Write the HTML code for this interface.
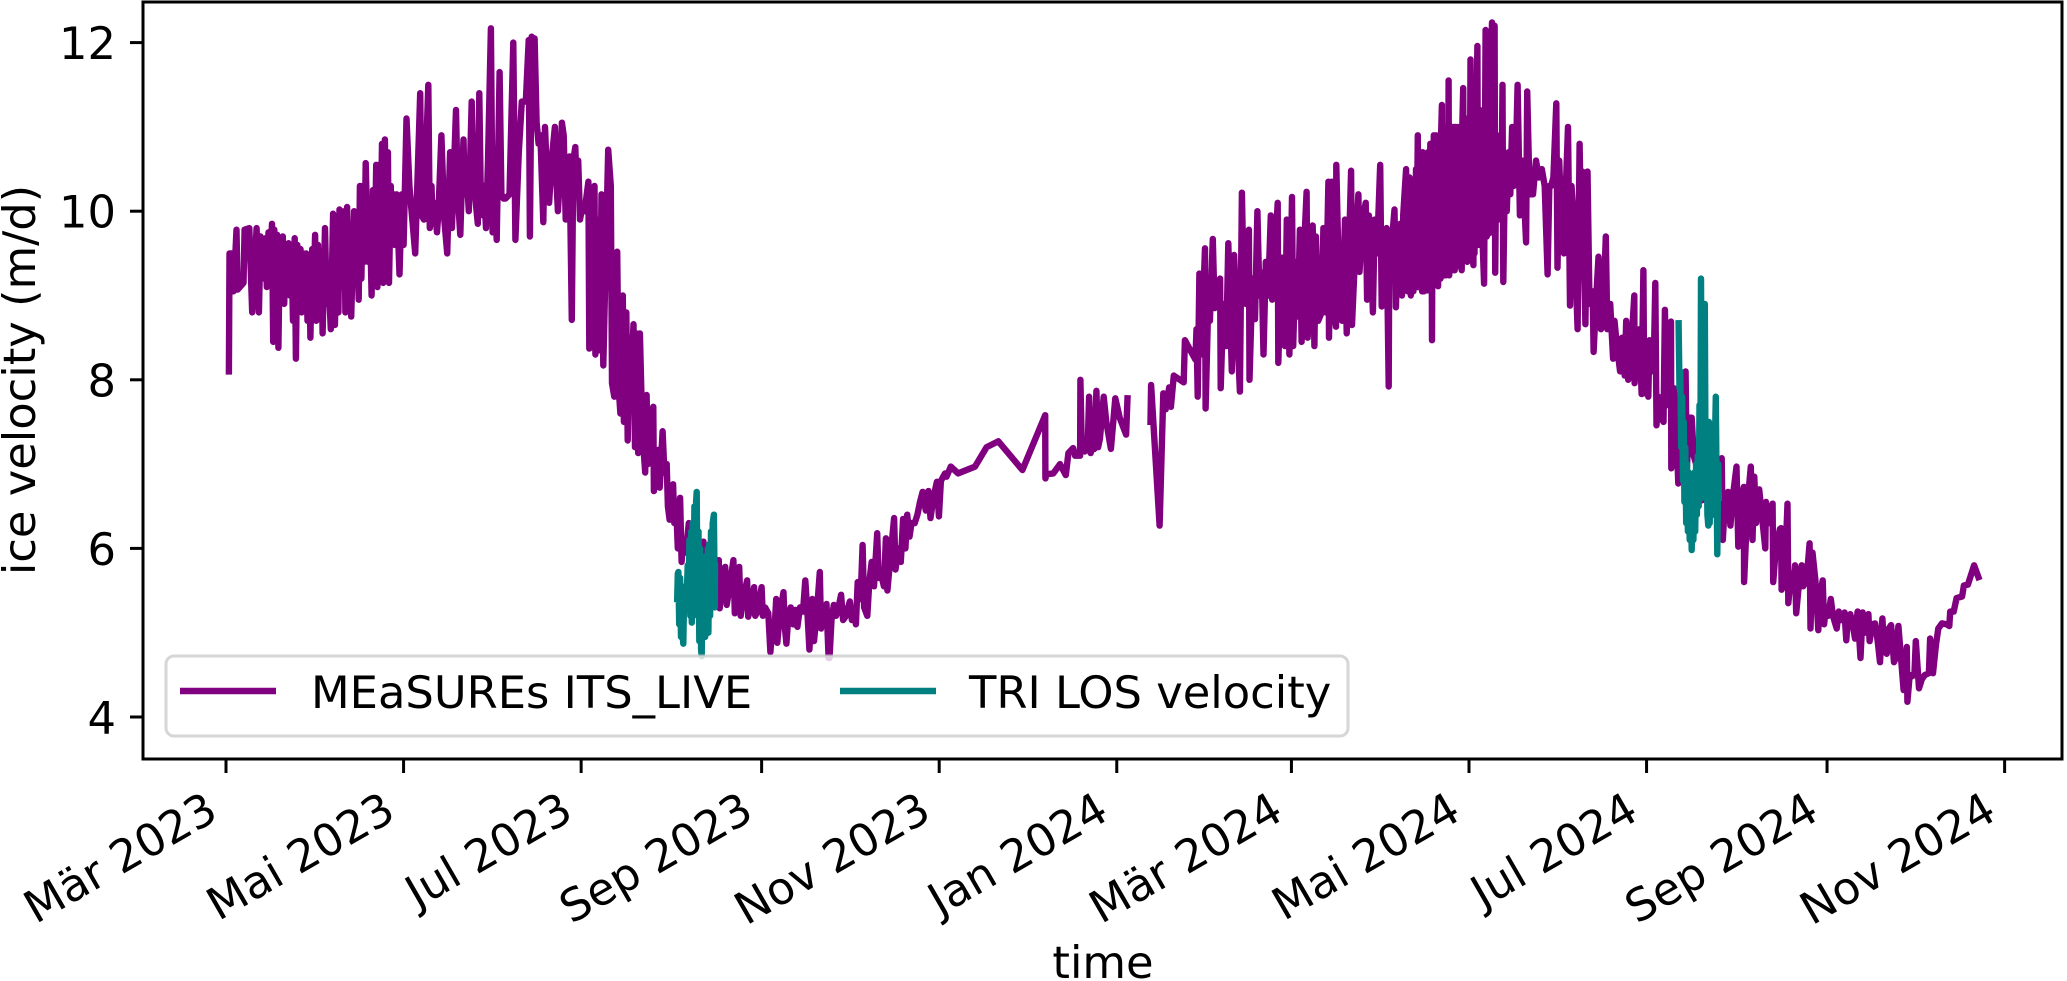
<!DOCTYPE html>
<html lang="de"><head><meta charset="utf-8"><title>Ice velocity</title>
<style>html,body{margin:0;padding:0;background:#fff}svg{display:block}text{font-family:"DejaVu Sans","Liberation Sans",sans-serif;fill:#000}</style>
</head><body>
<svg id="chart" xmlns="http://www.w3.org/2000/svg" width="2067" height="981" viewBox="0 0 2067 981">
<g id="series"></g>
<rect x="143" y="2" width="1919" height="757" fill="none" stroke="#000" stroke-width="3"/>
<g id="axes"></g>
<text transform="translate(35 380) rotate(-90)" text-anchor="middle" font-size="44.8">ice velocity (m/d)</text>
<text x="1103" y="978" text-anchor="middle" font-size="44.8">time</text>
<g>
<rect x="166" y="656" width="1182" height="80" rx="8" fill="#fff" fill-opacity=".8" stroke="#ccc" stroke-opacity=".8" stroke-width="3"/>
<line x1="180" x2="276" y1="691" y2="691" stroke="#800080" stroke-width="6.4"/>
<text x="311" y="708" font-size="44.8">MEaSUREs ITS_LIVE</text>
<line x1="840" x2="936" y1="691" y2="691" stroke="#008080" stroke-width="6.4"/>
<text x="969" y="708" font-size="44.8">TRI LOS velocity</text>
</g>
</svg>
<script>
const xTickDays=[0,61,122,184,245,306,366,427,488,550,611];
const xTickLabels=["Mär 2023","Mai 2023","Jul 2023","Sep 2023","Nov 2023","Jan 2024","Mär 2024","Mai 2024","Jul 2024","Sep 2024","Nov 2024"];
const yTickValues=[4,6,8,10,12];
const measuresDays=[
1,1.2,2,2.6,3.6,4,6,6.4,8,9,10.5,11.3,11.9,12.4,13,13.6,14,14.6,15.2,15.8,
16.2,16.6,17,17.6,18,18.5,19,19.5,20,20.5,21,21.5,22,22.5,23,23.6,24,24.5,25,25.6,
26,26.5,27,27.5,28,28.6,29,29.6,30,30.6,31,31.6,32,32.8,33.2,34,34.6,35,36,36.8,
37.4,38,38.6,39,40,40.6,41,41.6,42,42.6,43,44,44.6,45,45.6,46,46.5,47,47.5,48,
48.8,49.4,50,50.5,51,51.6,52,52.6,53,53.6,54,54.6,55,55.6,56,56.6,57,57.6,58,58.6,
59.6,60.4,61,62,63,65,66.7,67.2,68,69.5,70,70.6,71,71.6,72.5,73,74,75,76,77,
77.6,79,79.6,80.5,81,81.6,82,82.6,83.4,84.4,85,86.5,87,87.6,88.2,88.6,89.3,90,91,91.6,
92.4,93,94,94.6,95.4,96,97.4,98.7,99.4,100.6,101.6,103,104,104.4,105,105.6,106,106.7,107.4,108,
109,109.6,110.4,111,112,113,113.6,114,114.8,115.4,116,116.7,117.2,118,118.8,119.3,120,120.5,121,121.6,
122.4,123.2,124.5,124.8,125.6,126.6,126.9,127.6,128.4,129,129.6,131.3,132.2,132.6,133.4,134.4,134.9,135.5,136.3,136.7,
137.5,138,138.6,139.2,140,140.5,141,141.6,142.2,143,144,144.5,145,145.8,146.8,147,147.6,148.5,149,150,
150.6,151.4,151.8,152.4,153,153.6,154,154.6,155.2,156,156.5,157,158,159,160,161,162,163,164,165,
166,167,168,169.3,169.6,170.4,171.5,172,172.8,174.3,174.8,175.4,176.3,176.8,177.6,179,179.4,180.2,181.4,181.8,
182.6,184,184.4,185.2,186.3,187,187.6,188.2,189,189.4,190.2,191.5,191.9,192.5,193.2,194,194.8,195.5,196.3,197.2,
198.2,199,199.8,200.4,201.4,202,203,204,204.4,205.2,206.3,207,207.3,208,208.8,209.6,210.4,211.3,212,213,
214.3,215,216,216.4,217,218,218.7,219.2,220.3,221,221.8,222.6,223.7,224.2,225,226,226.7,227.2,228,229.5,
230,231,231.8,232.6,233.4,234,234.8,235.5,236.6,237.5,238.4,239.3,240.4,241.3,242,243,244.2,244.9,245.6,247,
247.5,249,251.5,257.3,261.3,265.3,273.6,281.4,281.5,282,284.2,286.5,288.5,289.4,291,291.7,293.4,293.5,294,295,
296,296.5,297,297.6,298.3,299,299.6,300.2,301.5,302.4,304,305.5,307,309.2,309.7,
313,
317.6,317.8,320.7,322,322.8,324,324.6,325.6,329,329.4,
333,333.4,333.8,334.4,335,336.3,336.5,337.4,338,339,339.6,340.4,341.5,341.7,342.6,343.6,344.3,345.5,346.3,347,
348.3,349,349.6,350.4,351.4,351.6,352.6,353.5,354.3,355,355.8,356.4,357.2,358,358.9,359.4,360.2,361.3,361.5,362.6,
363.8,364.4,365.3,366.2,366.6,367.4,368.2,368.9,369.5,370.4,371.2,371.6,372.4,373.3,373.9,374.4,375.2,376.4,377,377.8,
378.7,378.9,379.8,380.4,381.3,381.4,382.4,383.4,384.4,385,386.5,386.8,388,389,389.4,390.4,391.5,392,392.6,393.2,
394,394.6,395.4,396.5,397,397.6,398.7,399.4,399.6,400.4,401.4,401.9,402.6,403.4,404,404.4,405.4,405.9,406.6,407,
407.5,407.9,408.2,408.5,408.8,409,409.2,409.4,409.6,409.8,410,410.2,410.4,410.6,410.9,411.1,411.3,411.5,411.7,411.9,
412.1,412.3,412.5,412.7,412.9,413.1,413.3,413.5,413.7,413.9,414.1,414.3,414.5,414.7,414.9,415.1,415.3,415.5,415.7,415.9,
416.1,416.4,416.6,416.8,417,417.2,417.4,417.7,417.9,418.1,418.3,418.5,418.7,419,419.2,419.4,419.6,419.8,420,420.2,
420.4,420.6,420.8,421,421.2,421.4,421.7,421.9,422.1,422.3,422.5,422.7,422.9,423.1,423.3,423.5,423.7,423.9,424.1,424.3,
424.5,424.7,425,425.2,425.4,425.6,425.8,426,426.2,426.4,426.6,426.8,427,427.2,427.5,427.7,428,428.2,428.5,428.7,
428.9,429.1,429.3,429.5,429.9,430.1,430.3,430.5,430.7,430.9,431.1,431.3,431.5,431.7,432.2,
432.7,433.1,433.5,434,434.4,434.9,435.3,435.8,436,436.4,437,437.6,438.2,438.5,438.8,439.4,440,440.6,441.2,441.8,
442.4,443,443.7,444.5,445.2,445.6,446.6,447,447.6,448,449,450,451,452,453,454,454.6,455.2,456,457,
457.4,458,459,459.6,460.4,461,461.7,462.2,463,464.3,465,465.6,466,467,467.7,468.4,469.5,469.8,470.6,471.5,
472.3,473,474,474.5,475.5,476.5,477,477.8,478.9,479.6,480.5,481,481.7,482.6,483.8,483.9,484.8,485.6,486.3,486.9,
487.2,487.8,488.6,489,489.8,490.4,491,491.4,492,493,493.8,494.3,495,495.6,496.4,496.5,497.4,498,498.9,499.6,
500.4,501.4,501.8,502.6,503.5,504.2,505,506,507,508,509,510,511,512,513,513.8,514.2,515,516,516.8,
517.6,518.9,519.5,520.4,521.4,521.5,522.6,523.8,524.4,525,525.6,526.7,527.6,528.8,529,530,531.3,531.5,532.4,533.8,
534.2,534.4,535.4,536.4,536.7,537.6,538.4,539,539.4,540.4,541.3,541.8,542.6,543.4,544,544.3,545,546,547,547.6,
548.5,549,549.6,550.4,551.3,552,553.3,554,555,556,556.6,557.2,558,558.8,559.6,560.5,561.5,562.2,563,564.2,
564.6,565.5,566.5,567.4,568.2,569,569.6,570.5,571.2,572,573,573.6,574.5,575.4,576.3,577,577.4,577.6,578.4,579,
580,580.5,581.6,582.6,583.6,585,585.4,586.4,587.4,588.2,589.5,591,592,592.3,593.5,594.5,596.4,597,598.4,600.5,602
];
const measuresVelocity=[
8.1,9.5,9.5,9.05,9.78,9.07,9.15,9.78,9.8,8.8,9.8,8.8,9.7,9.2,9.3,9.68,9.1,9.75,9.4,9.85,
8.45,9.78,9.35,9.72,8.38,9.65,9.0,9.7,8.9,9.6,9.2,9.62,9.0,9.55,8.7,9.68,8.25,9.6,9.0,9.55,
8.8,9.5,8.9,9.5,8.7,9.4,8.5,9.55,8.9,9.72,8.7,9.6,9.1,9.45,8.55,9.8,8.9,9.35,8.6,9.97,
8.65,9.5,8.8,10.02,9.1,10.0,8.8,10.05,9.2,9.85,8.75,10.0,9.3,9.8,8.95,10.3,9.2,10.3,9.4,10.57,
9.4,10.0,9.0,10.25,9.3,10.55,9.1,10.55,9.5,10.8,9.15,10.85,9.6,10.7,9.15,10.3,9.6,10.2,9.6,10.2,
9.25,10.2,9.6,11.1,10.3,9.5,11.4,9.95,9.9,11.5,9.8,10.3,9.85,10.1,9.75,10.0,10.9,9.9,9.5,10.7,
9.8,11.2,10.2,9.72,10.3,10.85,10.2,10.5,10.0,11.3,10.4,9.85,11.4,10.0,9.95,10.3,9.8,10.6,12.17,9.75,
10.2,9.66,11.65,10.2,10.15,10.15,10.2,12.0,9.66,10.7,11.3,11.3,12.03,9.7,12.07,11.2,12.05,11.05,10.8,10.9,
9.87,11.0,10.3,10.1,10.65,11.0,10.3,10.0,10.45,11.05,10.9,9.9,10.2,10.65,8.71,10.6,10.76,10.2,10.6,9.9,
10.05,10.0,10.35,8.37,8.4,10.3,8.3,9.9,8.35,10.2,8.17,10.73,10.3,7.96,7.8,9.52,7.9,7.6,9.0,7.5,
8.8,7.28,8.5,8.0,8.66,7.2,8.55,7.13,8.55,7.4,6.9,7.82,7.0,7.4,7.68,6.68,7.1,7.17,6.72,7.39,
6.9,7.0,6.5,6.34,6.6,6.76,6.3,6.55,6.0,6.6,5.84,6.1,5.95,6.3,5.8,5.9,5.95,5.75,6.08,5.4,
5.6,5.3,5.5,5.86,5.29,5.6,5.78,5.33,5.5,5.86,5.23,5.7,5.78,5.2,5.4,5.62,5.19,5.3,5.54,5.2,
5.25,5.54,5.2,5.3,5.23,4.77,5.05,4.9,5.4,4.88,5.2,5.48,5.1,4.87,5.2,5.3,5.1,5.27,5.07,5.3,
5.25,5.62,5.2,4.8,5.4,4.9,5.25,5.72,5.05,5.2,5.34,4.7,4.7,5.15,5.33,5.2,5.3,5.45,5.15,5.2,
5.37,5.15,5.25,5.1,5.6,5.4,6.04,5.3,5.2,5.6,5.84,5.55,6.18,5.65,5.7,5.55,6.12,5.5,5.8,6.36,
5.75,6.0,5.84,6.35,6.0,6.4,6.14,6.3,6.3,6.4,6.55,6.67,6.45,6.68,6.36,6.6,6.79,6.38,6.8,6.89,
6.85,6.97,6.89,6.97,7.2,7.27,6.93,7.58,6.83,6.88,6.89,7.0,6.87,7.13,7.19,7.1,7.1,8.0,7.18,7.15,
7.2,7.8,7.13,7.19,7.18,7.87,7.2,7.3,7.8,7.5,7.18,7.78,7.55,7.35,7.78,
null,
7.5,7.94,6.27,7.84,7.65,7.91,7.68,8.05,7.97,8.47,
8.24,8.6,7.8,9.26,8.3,9.56,7.66,8.9,8.7,9.67,8.85,9.1,9.2,7.9,8.9,8.4,9.62,8.1,9.48,8.9,
7.86,10.22,9.1,8.9,9.78,8.0,9.2,8.72,10.0,9.0,9.27,8.3,9.4,9.0,9.95,8.95,9.4,10.1,8.2,9.45,
8.4,9.9,8.3,10.17,8.4,9.4,8.75,9.78,8.45,9.6,10.23,8.5,9.5,9.83,8.4,9.7,8.7,8.8,9.8,8.8,
10.35,8.5,10.35,8.9,8.63,10.55,9.0,8.7,9.9,8.55,10.48,8.65,9.6,10.2,9.28,9.9,10.1,8.95,9.95,9.7,
8.8,9.9,9.5,10.55,8.87,9.5,9.8,7.92,9.3,9.6,10.02,8.86,9.7,9.85,9.0,9.95,10.5,9.05,10.4,9.0,
10.1,9.05,10.3,9.1,10.5,9.1,10.2,10.9,9.1,10.6,9.2,10.7,9.1,10.4,9.05,10.7,10.6,9.05,10.6,9.2,
10.5,9.15,10.6,9.06,10.7,9.2,10.6,9.2,10.8,9.2,10.7,8.47,10.39,9.2,10.9,9.2,10.8,9.2,10.9,9.2,
10.8,9.11,10.8,9.2,10.9,9.2,10.9,11.26,9.3,10.9,9.24,10.95,9.3,9.24,10.95,9.3,11.0,9.3,11.55,9.24,
10.9,9.3,11.0,9.3,11.0,9.4,9.3,11.0,9.3,11.0,9.35,10.9,9.4,11.0,9.35,10.9,9.35,11.0,9.4,10.9,
9.3,11.0,11.46,9.45,11.0,9.5,11.1,9.5,11.0,9.4,11.1,9.5,11.0,9.45,11.8,9.5,11.0,9.6,9.36,11.0,
9.5,11.0,9.6,11.1,11.96,9.6,11.1,9.7,11.2,9.6,11.1,9.7,11.0,9.6,9.14,
12.15,9.7,11.0,9.74,11.5,12.24,9.8,12.2,9.27,10.9,9.9,10.9,10.3,11.5,9.16,10.6,10.0,10.7,10.2,11.0,
10.3,10.5,11.5,9.95,10.6,10.4,9.63,11.42,10.5,10.2,10.2,10.6,10.4,10.5,10.3,9.25,10.3,10.3,10.4,11.28,
9.33,10.6,9.63,9.5,10.4,11.0,8.88,10.3,9.9,8.6,10.8,9.4,10.47,8.66,10.47,8.9,9.05,8.33,8.9,9.46,
8.6,8.7,9.7,8.6,8.9,8.25,8.7,8.4,8.1,8.5,8.05,8.7,8.0,8.3,9.0,7.96,8.5,8.6,7.83,9.3,
7.84,8.3,7.8,8.47,8.2,8.1,9.15,7.46,7.8,7.55,7.5,8.83,7.7,8.1,8.69,6.95,7.9,7.6,6.77,7.5,
7.0,8.1,6.9,7.55,7.55,7.1,7.0,6.8,6.57,6.9,6.7,6.8,6.6,6.7,6.5,7.07,6.1,6.6,6.67,6.27,
6.6,6.97,6.02,6.6,6.73,5.6,6.5,6.97,6.1,6.85,6.3,6.7,6.4,6.0,6.55,6.3,6.53,5.6,6.0,6.23,
6.24,5.51,5.6,6.53,5.35,5.7,5.5,5.8,5.23,5.6,5.8,5.55,5.6,5.8,6.06,5.05,5.95,5.62,5.03,5.45,
5.62,5.1,5.3,5.2,5.4,5.2,5.05,5.25,5.15,5.24,4.91,5.2,5.22,5.1,4.93,5.25,4.7,5.24,5.0,5.22,
4.9,5.1,5.11,4.9,4.65,5.17,4.8,4.75,5.05,5.09,4.65,4.7,5.08,4.7,4.32,4.4,4.83,4.18,4.5,4.48,
4.5,4.9,4.34,4.45,4.5,4.52,4.93,4.52,4.85,5.05,5.11,5.1,5.08,5.25,5.25,5.41,5.43,5.56,5.57,5.8,5.66
];
const triDaysFirst=[155,155.2,155.4,155.7,156,156.3,156.6,156.9,157.1,157.4,157.7,158,158.3,158.6,158.9,159.2,159.5,159.8,160,160.3,160.6,160.9,161.2,161.5,161.7,162,162.3,162.6,162.9,163.2,163.4,163.7,164,164.3,164.6,164.9,165.2,165.5,165.7,166,166.3,166.6,166.9,167.2,167.6,167.9,168];
const triVelocityFirst=[5.4,5.7,5.72,5.1,5.65,4.95,5.55,4.95,4.87,5.5,5.3,5.55,5.45,5.8,5.3,6.1,5.2,6.2,5.12,6.3,5.4,6.5,5.4,6.55,6.67,5.2,6.2,4.9,6.0,4.8,4.72,5.6,5.0,5.9,4.95,5.7,5.0,6.0,5.0,6.05,5.2,6.2,5.3,6.3,6.4,5.3,5.8];
const triDaysSecond=[499,499.3,499.6,499.9,500.2,500.5,500.8,501,501.3,501.6,501.9,502.2,502.5,502.8,503.1,503.5,503.8,504.1,504.4,504.7,505,505.3,505.6,505.9,506.2,506.5,506.7,507,507.3,507.6,508,508.3,508.6,508.9,509.2,509.4,509.7,510,510.3,510.6,510.9,511.2,511.5,511.8,512.1,512.3,512.6,512.8];
const triVelocitySecond=[8.67,7.9,8.1,7.2,7.8,6.8,7.5,6.55,7.2,6.3,7.0,6.2,6.9,6.1,6.8,5.98,6.7,6.1,6.9,6.2,7.0,6.4,7.1,6.5,7.7,7.0,9.2,6.6,8.6,6.9,8.9,6.6,7.5,6.4,6.27,7.5,6.3,7.2,7.3,6.4,7.1,6.5,7.3,7.8,6.6,5.93,7.0,6.6];

const NS='http://www.w3.org/2000/svg';
function xScale(day){return 226+2.911*day;}
function yScale(v){return 717-(v-4)*84.3;}
function linePath(days,values){
  let d='',pen=false;
  const n=Math.min(days.length,values.length);
  for(let i=0;i<n;i++){
    if(values[i]===null){pen=false;continue;}
    d+=(pen?'L':'M')+xScale(days[i]).toFixed(1)+' '+yScale(values[i]).toFixed(1);
    pen=true;
  }
  return d;
}
const seriesGroup=document.getElementById('series');
const axesGroup=document.getElementById('axes');

const measuresLine=document.createElementNS(NS,'path');


measuresLine.setAttribute('d',linePath(measuresDays,measuresVelocity));
measuresLine.setAttribute('fill','none');
measuresLine.setAttribute('stroke','#800080');
measuresLine.setAttribute('stroke-width','6.4');
measuresLine.setAttribute('stroke-linejoin','round');
measuresLine.setAttribute('stroke-linecap','square');
seriesGroup.appendChild(measuresLine);

const triLineFirst=document.createElementNS(NS,'path');


triLineFirst.setAttribute('d',linePath(triDaysFirst,triVelocityFirst));
triLineFirst.setAttribute('fill','none');
triLineFirst.setAttribute('stroke','#008080');
triLineFirst.setAttribute('stroke-width','6.4');
triLineFirst.setAttribute('stroke-linejoin','round');
triLineFirst.setAttribute('stroke-linecap','square');
seriesGroup.appendChild(triLineFirst);

const triLineSecond=document.createElementNS(NS,'path');


triLineSecond.setAttribute('d',linePath(triDaysSecond,triVelocitySecond));
triLineSecond.setAttribute('fill','none');
triLineSecond.setAttribute('stroke','#008080');
triLineSecond.setAttribute('stroke-width','6.4');
triLineSecond.setAttribute('stroke-linejoin','round');
triLineSecond.setAttribute('stroke-linecap','square');
seriesGroup.appendChild(triLineSecond);

xTickDays.forEach(function(day,i){
  const x=xScale(day);
  const mark=document.createElementNS(NS,'line');
  
  
  mark.setAttribute('x1',x);
  mark.setAttribute('x2',x);
  mark.setAttribute('y1',759);
  mark.setAttribute('y2',773);
  mark.setAttribute('stroke','#000');
  mark.setAttribute('stroke-width','3');
  axesGroup.appendChild(mark);
  const label=document.createElementNS(NS,'text');
  
  
  label.setAttribute('text-anchor','end');
  label.setAttribute('font-size','44.8');
  label.setAttribute('transform','translate('+(x-6)+' 818) rotate(-30)');
  label.textContent=xTickLabels[i];
  axesGroup.appendChild(label);
});
yTickValues.forEach(function(v){
  const y=yScale(v);
  const mark=document.createElementNS(NS,'line');
  
  
  mark.setAttribute('x1',130);
  mark.setAttribute('x2',143);
  mark.setAttribute('y1',y);
  mark.setAttribute('y2',y);
  mark.setAttribute('stroke','#000');
  mark.setAttribute('stroke-width','3');
  axesGroup.appendChild(mark);
  const label=document.createElementNS(NS,'text');
  
  
  label.setAttribute('x',116);
  label.setAttribute('y',y+16.5);
  label.setAttribute('text-anchor','end');
  label.setAttribute('font-size','44.8');
  label.textContent=String(v);
  axesGroup.appendChild(label);
});
</script>
</body></html>
